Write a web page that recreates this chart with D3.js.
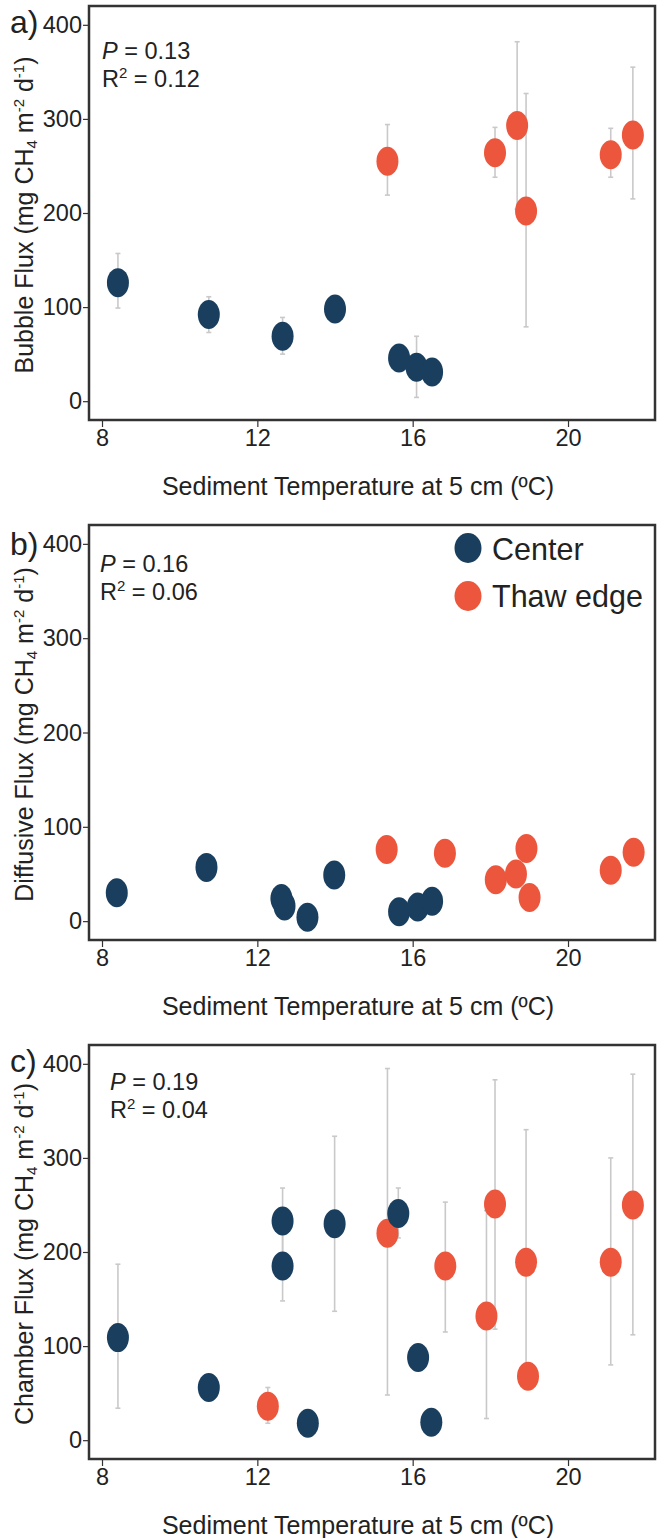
<!DOCTYPE html>
<html>
<head>
<meta charset="utf-8">
<script src="https://cdn.jsdelivr.net/npm/d3@7"></script>
<style>
  html, body { margin: 0; padding: 0; background: #fff; }
  svg { display: block; }
  text { font-family: "Liberation Sans", Arial, sans-serif; fill: #222; }
</style>
</head>
<body>
<svg id="chart" width="657" height="1538"></svg>
<script>
// ---------- data ----------
const tempTicks = [8, 12, 16, 20];
const fluxTicks = [0, 100, 200, 300, 400];
const seriesNames = ["Center", "Thaw edge"];

// a) Bubble flux
const bubbleCenterT  = [8.41, 10.75, 12.65, 14.0, 15.65, 16.1, 16.5];
const bubbleCenterV  = [126, 92, 69, 98, 46, 36, 31];
const bubbleCenterLo = [99, 73, 50, null, null, 4, null];
const bubbleCenterHi = [157, 111, 89, null, null, 69, null];
const bubbleThawT  = [15.35, 18.12, 18.69, 18.92, 21.1, 21.67];
const bubbleThawV  = [255, 264, 293, 202, 262, 283];
const bubbleThawLo = [219, 238, 204, 79, 238, 215];
const bubbleThawHi = [294, 291, 382, 327, 290, 355];

// b) Diffusive flux
const diffCenterT = [8.38, 10.69, 12.62, 12.7, 13.29, 13.98, 15.65, 16.13, 16.5];
const diffCenterV = [30, 57, 24, 16, 4, 49, 10, 15, 21];
const diffThawT = [15.33, 16.83, 18.14, 18.66, 18.93, 19.01, 21.1, 21.69];
const diffThawV = [76, 72, 44, 50, 77, 25, 54, 73];

// c) Chamber flux
const chamberCenterT  = [8.41, 10.75, 12.65, 12.65, 13.3, 13.99, 15.63, 16.14, 16.48];
const chamberCenterV  = [109, 56, 233, 185, 18, 230, 241, 88, 19];
const chamberCenterLo = [34, null, 198, 148, null, 137, 215, null, null];
const chamberCenterHi = [187, null, 268, 222, null, 323, 268, null, null];
const chamberThawT  = [12.27, 15.35, 16.84, 17.9, 18.12, 18.92, 18.97, 21.1, 21.67];
const chamberThawV  = [36, 220, 185, 132, 251, 189, 68, 189, 250];
const chamberThawLo = [18, 48, 115, 23, 118, 81, null, 80, 112];
const chamberThawHi = [56, 395, 253, 244, 383, 330, null, 300, 389];

const statsP  = ["0.13", "0.16", "0.19"];
const statsR2 = ["0.12", "0.06", "0.04"];
const panelLetters = ["a)", "b)", "c)"];
const yTitles = ["Bubble Flux", "Diffusive Flux", "Chamber Flux"];
const xTitle = "Sediment Temperature at 5 cm (ºC)";

// ---------- style ----------
const NAVY = "#1a3e5e";
const ORANGE = "#ec563c";
const ERR = "#c9c9c9";
const AXIS = "#333";

const zip = (t, v, lo, hi) => t.map((d, i) => ({ t: d, v: v[i], lo: lo ? lo[i] : null, hi: hi ? hi[i] : null }));

const panels = [
  { top: 6, bottom: 420, center: zip(bubbleCenterT, bubbleCenterV, bubbleCenterLo, bubbleCenterHi),
    thaw: zip(bubbleThawT, bubbleThawV, bubbleThawLo, bubbleThawHi), statX: 102, statY: 59, labelY: 33, legend: false },
  { top: 525, bottom: 940, center: zip(diffCenterT, diffCenterV), thaw: zip(diffThawT, diffThawV),
    statX: 100, statY: 572, labelY: 555, legend: true },
  { top: 1045, bottom: 1459, center: zip(chamberCenterT, chamberCenterV, chamberCenterLo, chamberCenterHi),
    thaw: zip(chamberThawT, chamberThawV, chamberThawLo, chamberThawHi), statX: 110, statY: 1090, labelY: 1072, legend: false }
];

const svg = d3.select("#chart");
const left = 89, right = 655;
const x = d3.scaleLinear().domain([7.665, 22.24]).range([left, right]);

panels.forEach((p, pi) => {
  const y = d3.scaleLinear().domain([-20, 420]).range([p.bottom, p.top]);
  const g = svg.append("g");

  // box
  g.append("rect").attr("x", left).attr("y", p.top)
    .attr("width", right - left).attr("height", p.bottom - p.top)
    .attr("fill", "none").attr("stroke", AXIS).attr("stroke-width", 2.5);

  // y axis
  const ya = g.append("g").attr("transform", `translate(${left},0)`)
    .call(d3.axisLeft(y).tickValues(fluxTicks).tickSize(6).tickPadding(1).tickFormat(d3.format("d")));
  ya.select(".domain").remove();
  ya.selectAll(".tick line").attr("stroke", AXIS).attr("stroke-width", 1.2);
  ya.selectAll(".tick text").attr("font-size", 23.5).attr("fill", "#222")
    .style("font-family", '"Liberation Sans", Arial, sans-serif');

  // x axis
  const xa = g.append("g").attr("transform", `translate(0,${p.bottom})`)
    .call(d3.axisBottom(x).tickValues(tempTicks).tickSize(7).tickPadding(2).tickFormat(d3.format("d")));
  xa.select(".domain").remove();
  xa.selectAll(".tick line").attr("stroke", AXIS).attr("stroke-width", 1.2);
  xa.selectAll(".tick text").attr("font-size", 23.5).attr("fill", "#222")
    .style("font-family", '"Liberation Sans", Arial, sans-serif');

  // x title
  g.append("text").attr("x", 358).attr("y", p.bottom + 75)
    .attr("text-anchor", "middle").attr("font-size", 25).text(xTitle);

  // y title (rotated)
  const cy = (p.top + p.bottom) / 2 + 2;
  const yt = g.append("text").attr("transform", `translate(33,${cy}) rotate(-90)`)
    .attr("text-anchor", "middle").attr("font-size", 25);
  yt.append("tspan").text(yTitles[pi] + " (mg CH");
  yt.append("tspan").attr("font-size", 15).attr("dy", 4).text("4");
  yt.append("tspan").attr("dy", -4).text(" m");
  yt.append("tspan").attr("font-size", 15).attr("dy", -9).text("-2");
  yt.append("tspan").attr("dy", 9).text(" d");
  yt.append("tspan").attr("font-size", 15).attr("dy", -9).text("-1");
  yt.append("tspan").attr("dy", 9).text(")");

  // panel letter
  g.append("text").attr("x", 10).attr("y", p.labelY).attr("font-size", 32).text(panelLetters[pi]);

  // stats
  const s1 = g.append("text").attr("x", p.statX).attr("y", p.statY).attr("font-size", 23.5);
  s1.append("tspan").attr("font-style", "italic").text("P");
  s1.append("tspan").text(" = " + statsP[pi]);
  const s2 = g.append("text").attr("x", p.statX).attr("y", p.statY + 28).attr("font-size", 23.5);
  s2.append("tspan").text("R");
  s2.append("tspan").attr("font-size", 15).attr("dy", -9).text("2");
  s2.append("tspan").attr("dy", 9).text(" = " + statsR2[pi]);

  // error bars
  const all = p.thaw.concat(p.center).filter(d => d.lo != null && d.hi != null);
  const eb = g.append("g").attr("stroke", ERR).attr("stroke-width", 1.6).attr("fill", "none");
  all.forEach(d => {
    eb.append("line").attr("x1", x(d.t)).attr("x2", x(d.t)).attr("y1", y(d.lo)).attr("y2", y(d.hi));
    eb.append("line").attr("x1", x(d.t) - 2.5).attr("x2", x(d.t) + 2.5).attr("y1", y(d.lo)).attr("y2", y(d.lo));
    eb.append("line").attr("x1", x(d.t) - 2.5).attr("x2", x(d.t) + 2.5).attr("y1", y(d.hi)).attr("y2", y(d.hi));
  });

  // markers
  g.append("g").selectAll("ellipse").data(p.thaw).join("ellipse")
    .attr("cx", d => x(d.t)).attr("cy", d => y(d.v)).attr("rx", 11).attr("ry", 14.5).attr("fill", ORANGE);
  g.append("g").selectAll("ellipse").data(p.center).join("ellipse")
    .attr("cx", d => x(d.t)).attr("cy", d => y(d.v)).attr("rx", 11).attr("ry", 14.5).attr("fill", NAVY);

  // legend
  if (p.legend) {
    const lg = g.append("g");
    [NAVY, ORANGE].forEach((c, i) => {
      lg.append("ellipse").attr("cx", 468).attr("cy", 548 + i * 48).attr("rx", 13.5).attr("ry", 15).attr("fill", c);
      lg.append("text").attr("x", 492).attr("y", 560 + i * 47).attr("font-size", 30.5).text(seriesNames[i]);
    });
  }
});
</script>
</body>
</html>
